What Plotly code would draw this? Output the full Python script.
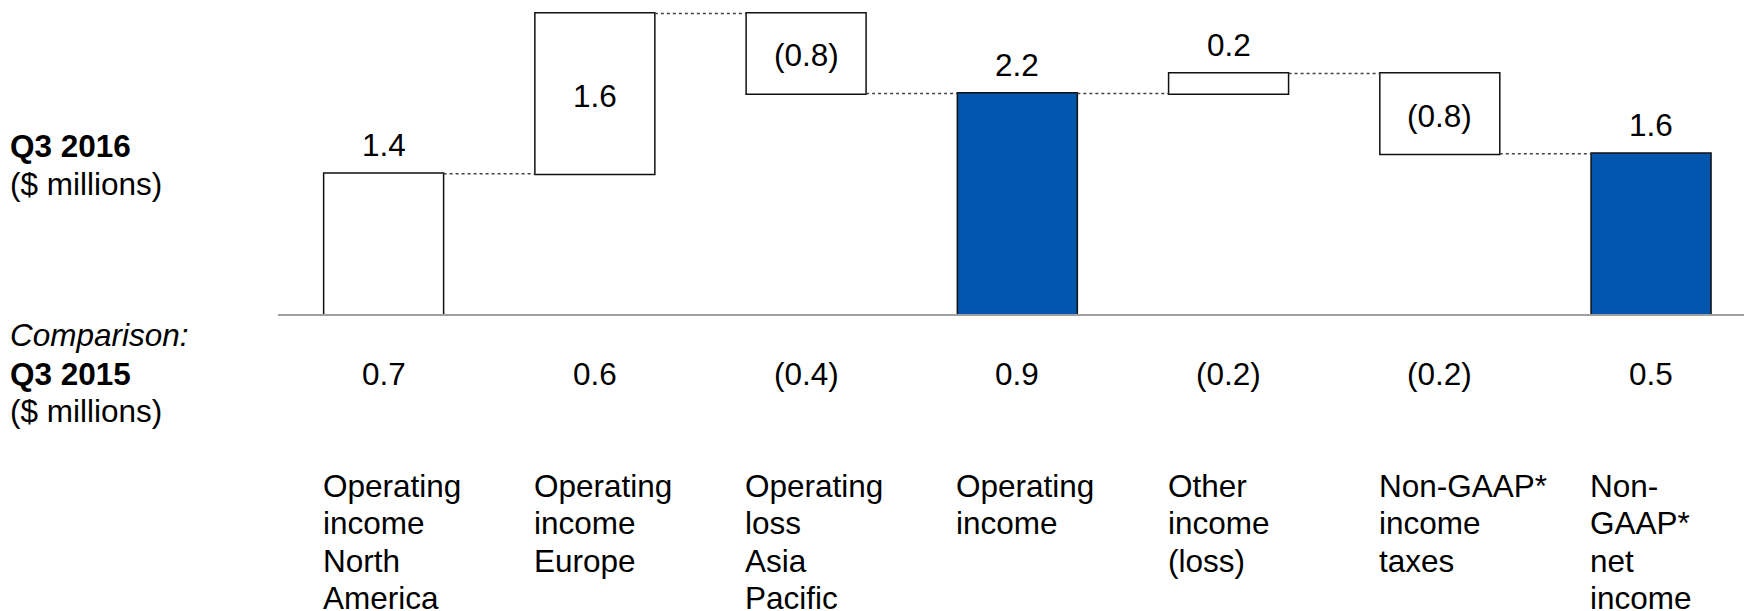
import plotly.graph_objects as go

# ---- data -------------------------------------------------------------
categories = [
    "Operating<br>income<br>North<br>America",
    "Operating<br>income<br>Europe",
    "Operating<br>loss<br>Asia<br>Pacific",
    "Operating<br>income",
    "Other<br>income<br>(loss)",
    "Non-GAAP*<br>income<br>taxes",
    "Non-<br>GAAP*<br>net<br>income",
]
measures = ["relative", "relative", "relative", "total", "relative", "relative", "total"]
q3_2016 = [1.4, 1.6, -0.8, 0, 0.2, -0.8, 0]          # $ millions (totals computed)
q3_2015 = [0.7, 0.6, -0.4, 0.9, -0.2, -0.2, 0.5]     # comparison row, $ millions

# ---- styling ----------------------------------------------------------
FONT = "Arial, Liberation Sans, sans-serif"
FS = 31.5
BLUE = "#0455AD"
W, H = 1744, 611
PLOT_L, PLOT_B = 278, 297           # margins (px)
PLOT_H = H - PLOT_B
PLOT_W = W - PLOT_L
BAR_W = 0.568                       # bar width in category units
label_inside = [False, True, True, False, False, True, False]


def fmt(v):
    return f"({abs(v):.1f})" if v < 0 else f"{v:.1f}"


def py_to_paper(py):
    return (PLOT_H - py) / PLOT_H


def px_to_paper(px):
    return (px - PLOT_L) / PLOT_W


xs = list(range(len(categories)))

fig = go.Figure()
fig.add_trace(go.Waterfall(
    x=xs,
    y=q3_2016,
    measure=measures,
    hovertext=[c.replace("<br>", " ") for c in categories],
    hoverinfo="text",
    increasing=dict(marker=dict(color="white", line=dict(color="#111111", width=1.5))),
    decreasing=dict(marker=dict(color="white", line=dict(color="#111111", width=1.5))),
    totals=dict(marker=dict(color=BLUE, line=dict(color="#111111", width=1.5))),
    connector=dict(mode="between", line=dict(color="#444444", width=1.5, dash="dot")),
    showlegend=False,
))

annotations = []

# value labels for the Q3 2016 bars, taken from the running totals
running = 0.0
y_range_top = PLOT_H / 100.2
for i, (m, v) in enumerate(zip(measures, q3_2016)):
    if m == "total":
        lo, hi, val = 0.0, running, running
    else:
        lo, hi = sorted([running, running + v])
        running += v
        val = v
    if label_inside[i]:
        y, shift = (lo + hi) / 2, -2
    else:
        y, shift = hi, 29
    annotations.append(dict(
        x=i, y=y, xref="x", yref="y", text=fmt(val), showarrow=False,
        xanchor="center", yanchor="middle", yshift=shift,
        font=dict(family=FONT, size=FS, color="black"),
    ))

# comparison row
for i, v in enumerate(q3_2015):
    annotations.append(dict(
        x=i, y=py_to_paper(374), xref="x", yref="paper", text=fmt(v),
        showarrow=False, xanchor="center", yanchor="middle",
        font=dict(family=FONT, size=FS, color="black"),
    ))

# category labels, left-aligned to each bar's left edge
LINE_GAP = 37.3
for i, cat in enumerate(categories):
    for j, line in enumerate(cat.split("<br>")):
        annotations.append(dict(
            x=i - BAR_W / 2, y=py_to_paper(486 + j * LINE_GAP), xref="x", yref="paper",
            text=line, showarrow=False, xanchor="left", yanchor="middle", xshift=-3,
            font=dict(family=FONT, size=FS, color="black"),
        ))

# row headings on the left
side_text = [
    ("<b>Q3 2016</b>", 146),
    ("($ millions)", 183.5),
    ("<i>Comparison:</i>", 335),
    ("<b>Q3 2015</b>", 374),
    ("($ millions)", 411.5),
]
for txt, py in side_text:
    annotations.append(dict(
        x=px_to_paper(8), y=py_to_paper(py), xref="paper", yref="paper",
        text=txt, showarrow=False, xanchor="left", yanchor="middle",
        font=dict(family=FONT, size=FS, color="black"),
    ))

fig.update_layout(
    width=W, height=H,
    margin=dict(l=PLOT_L, r=0, t=0, b=PLOT_B, pad=0),
    paper_bgcolor="white", plot_bgcolor="white",
    waterfallgap=1 - BAR_W,
    annotations=annotations,
    xaxis=dict(range=[-0.5, 6.44], showticklabels=False, showgrid=False, zeroline=False,
               showline=True, linecolor="#A0A0A0", linewidth=2, ticks="", fixedrange=True),
    yaxis=dict(range=[0, y_range_top], visible=False, fixedrange=True),
)

fig.write_html("out.html")
